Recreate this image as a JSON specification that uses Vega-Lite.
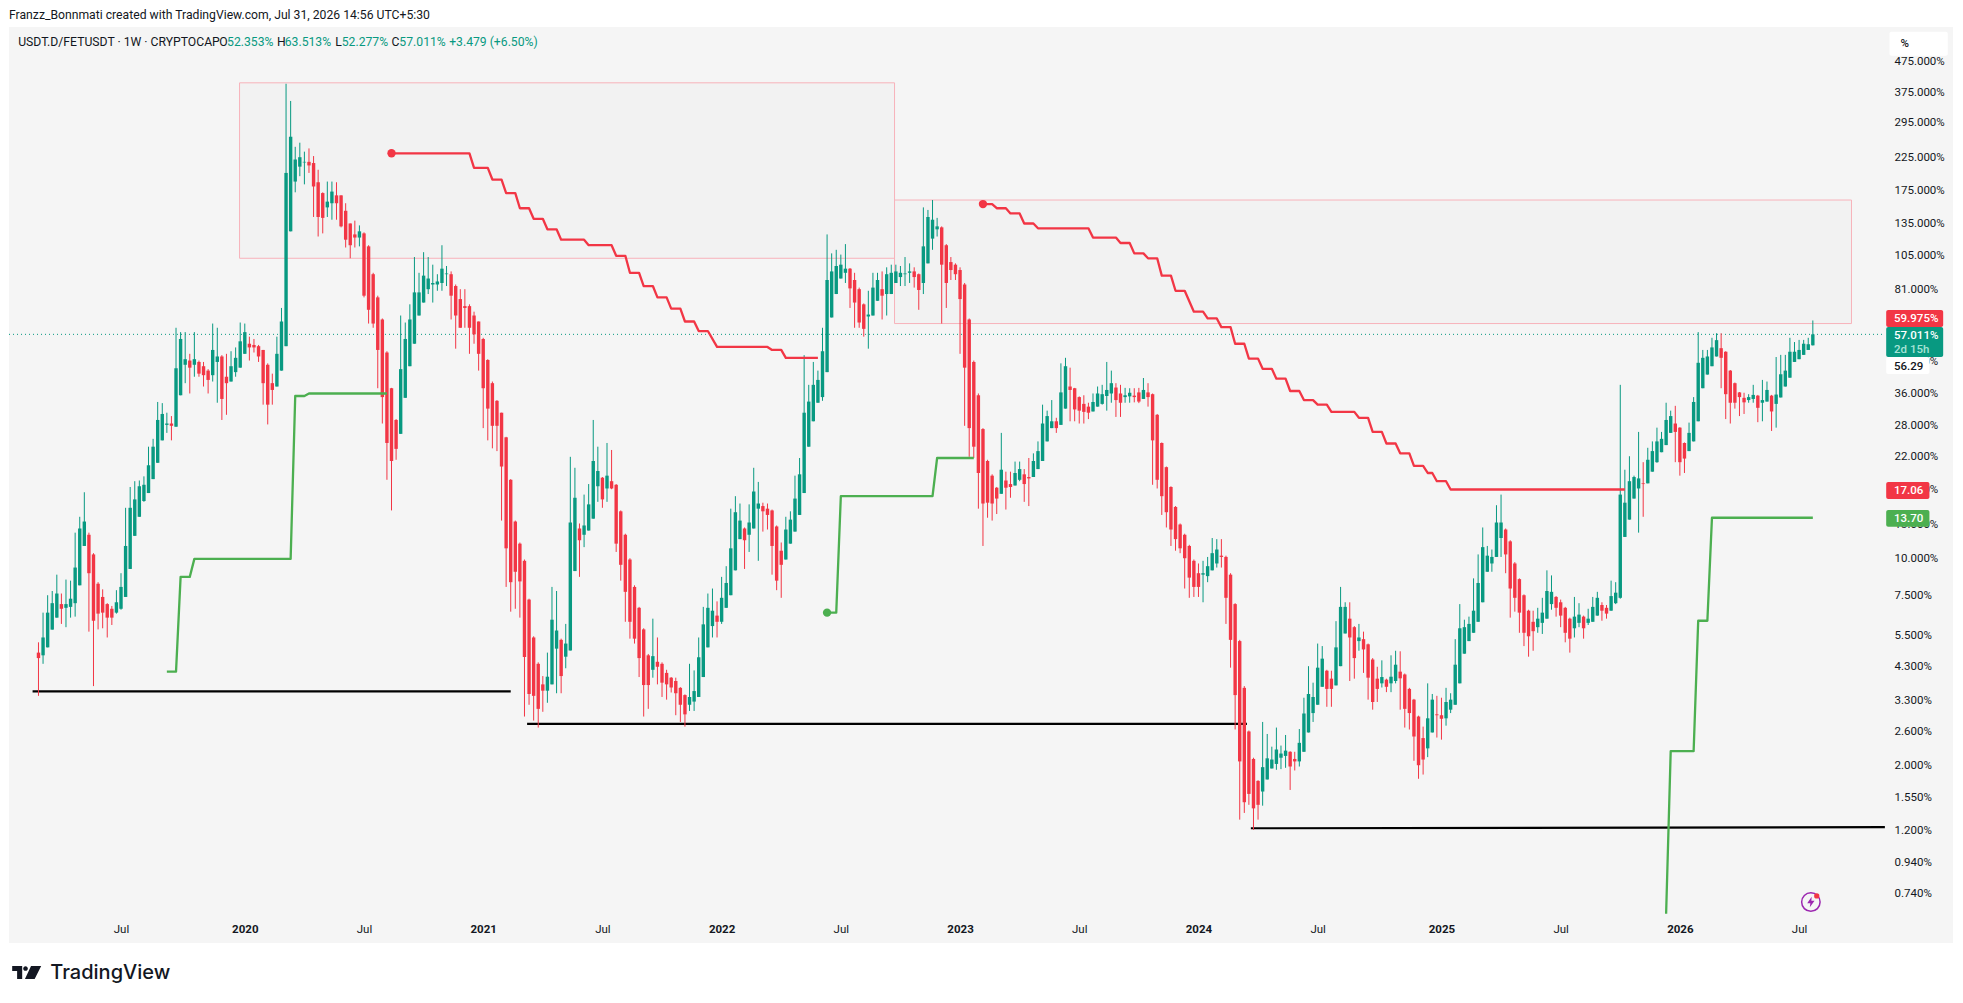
{
"$schema":"https://vega.github.io/schema/vega-lite/v6.json",
"width":1944,"height":916,
"autosize":{"type":"none"},
"padding":{"left":9,"top":27,"right":10,"bottom":60},
"background":"#ffffff",
"view":{"fill":"#f5f5f5","stroke":null},
"config":{"text":{"font":"Roboto"}},
"datasets":{
"candles":[
{"t":"2019-02-25","o":4.8,"h":5.2,"l":3.43,"c":4.6},
{"t":"2019-03-04","o":4.7,"h":6.55,"l":4.4,"c":5.4},
{"t":"2019-03-11","o":5.0,"h":7.5,"l":5.0,"c":6.55},
{"t":"2019-03-18","o":5.74,"h":7.75,"l":5.74,"c":7.05},
{"t":"2019-03-25","o":6.3,"h":8.8,"l":6.3,"c":7.6},
{"t":"2019-04-01","o":7,"h":7.6,"l":6.0,"c":6.75},
{"t":"2019-04-08","o":6.8,"h":8.47,"l":5.85,"c":7.0},
{"t":"2019-04-15","o":6.85,"h":8.4,"l":6.3,"c":7.3},
{"t":"2019-04-22","o":7.05,"h":12.2,"l":6.35,"c":9.3},
{"t":"2019-04-29","o":8.1,"h":13.8,"l":8.1,"c":12.6},
{"t":"2019-05-06","o":11,"h":16.7,"l":11,"c":13.3},
{"t":"2019-05-13","o":12,"h":12.2,"l":5.65,"c":8.9},
{"t":"2019-05-20","o":10.3,"h":10.4,"l":3.7,"c":6.15},
{"t":"2019-05-27","o":8.2,"h":8.3,"l":5.75,"c":6.5},
{"t":"2019-06-03","o":7.4,"h":7.85,"l":5.8,"c":6.55},
{"t":"2019-06-10","o":7,"h":7.05,"l":5.4,"c":6.3},
{"t":"2019-06-17","o":6.75,"h":6.9,"l":5.95,"c":6.3},
{"t":"2019-06-24","o":6.55,"h":7.8,"l":6.5,"c":7.1},
{"t":"2019-07-01","o":6.75,"h":8.9,"l":6.7,"c":8.0},
{"t":"2019-07-08","o":7.4,"h":14.8,"l":7.4,"c":11},
{"t":"2019-07-15","o":9.2,"h":17.4,"l":9.2,"c":14.8},
{"t":"2019-07-22","o":11.9,"h":18.2,"l":11.9,"c":15.8},
{"t":"2019-07-29","o":13.8,"h":18.3,"l":13.8,"c":17.5},
{"t":"2019-08-05","o":15.6,"h":18.9,"l":15.5,"c":17.7},
{"t":"2019-08-12","o":16.6,"h":23.8,"l":16.6,"c":20.6},
{"t":"2019-08-19","o":18.5,"h":25.3,"l":18.5,"c":23.8},
{"t":"2019-08-26","o":21,"h":33.7,"l":21,"c":29.3},
{"t":"2019-09-02","o":25,"h":33.4,"l":25,"c":30.7},
{"t":"2019-09-09","o":28.2,"h":31,"l":26.5,"c":28.5},
{"t":"2019-09-16","o":28.5,"h":30.2,"l":25,"c":28},
{"t":"2019-09-23","o":27.8,"h":60,"l":27.8,"c":43.8},
{"t":"2019-09-30","o":35.5,"h":58,"l":35.5,"c":55},
{"t":"2019-10-07","o":45,"h":58,"l":39,"c":47},
{"t":"2019-10-14","o":46.5,"h":49,"l":36,"c":44},
{"t":"2019-10-21","o":45,"h":58,"l":41,"c":47},
{"t":"2019-10-28","o":46,"h":46.5,"l":41,"c":42},
{"t":"2019-11-04","o":44.5,"h":46,"l":38,"c":41.5},
{"t":"2019-11-11","o":43,"h":43.5,"l":36,"c":40},
{"t":"2019-11-18","o":41.5,"h":62,"l":39.5,"c":50.5},
{"t":"2019-11-25","o":46,"h":60,"l":33.5,"c":48},
{"t":"2019-12-02","o":48,"h":48.5,"l":29.3,"c":34.5},
{"t":"2019-12-09","o":41,"h":49,"l":30.5,"c":39},
{"t":"2019-12-16","o":39.5,"h":50,"l":39.5,"c":44.5},
{"t":"2019-12-23","o":42.5,"h":51.5,"l":41,"c":47.5},
{"t":"2019-12-30","o":44,"h":62.5,"l":44,"c":54},
{"t":"2020-01-06","o":49,"h":62,"l":49,"c":58},
{"t":"2020-01-13","o":53,"h":56,"l":46.5,"c":51.5},
{"t":"2020-01-20","o":52.5,"h":55,"l":49.5,"c":51.5},
{"t":"2020-01-27","o":52,"h":52.5,"l":46,"c":48},
{"t":"2020-02-03","o":50.5,"h":50.5,"l":33,"c":39},
{"t":"2020-02-10","o":45,"h":45.5,"l":28.3,"c":33},
{"t":"2020-02-17","o":39,"h":42,"l":33,"c":37},
{"t":"2020-02-24","o":38,"h":56,"l":38,"c":49},
{"t":"2020-03-02","o":43,"h":70,"l":43,"c":63},
{"t":"2020-03-09","o":52,"h":400,"l":52,"c":200},
{"t":"2020-03-16","o":127,"h":350,"l":127,"c":265},
{"t":"2020-03-23","o":187,"h":245,"l":172,"c":222},
{"t":"2020-03-30","o":210,"h":253,"l":195,"c":226},
{"t":"2020-04-06","o":217,"h":236,"l":183,"c":218},
{"t":"2020-04-13","o":218,"h":242,"l":200,"c":212},
{"t":"2020-04-20","o":216,"h":228,"l":142,"c":180},
{"t":"2020-04-27","o":186,"h":205,"l":122,"c":142},
{"t":"2020-05-04","o":171,"h":172,"l":125,"c":141},
{"t":"2020-05-11","o":153,"h":187,"l":142,"c":160},
{"t":"2020-05-18","o":158,"h":187,"l":139,"c":173},
{"t":"2020-05-25","o":168,"h":186,"l":139,"c":158},
{"t":"2020-06-01","o":168,"h":168,"l":131,"c":132},
{"t":"2020-06-08","o":149,"h":158,"l":112,"c":119},
{"t":"2020-06-15","o":135,"h":135,"l":103,"c":114},
{"t":"2020-06-22","o":124,"h":138,"l":112,"c":121},
{"t":"2020-06-29","o":121,"h":133,"l":113,"c":127},
{"t":"2020-07-06","o":125,"h":126,"l":76,"c":77},
{"t":"2020-07-13","o":113,"h":114,"l":62,"c":69},
{"t":"2020-07-20","o":91,"h":92,"l":60,"c":62},
{"t":"2020-07-27","o":76,"h":77,"l":37.5,"c":50.5},
{"t":"2020-08-03","o":64,"h":64.5,"l":28.5,"c":35},
{"t":"2020-08-10","o":49.5,"h":50,"l":18.4,"c":24.5},
{"t":"2020-08-17","o":37.5,"h":37.6,"l":14.5,"c":21.3},
{"t":"2020-08-24","o":29.3,"h":29.5,"l":21.5,"c":23.4},
{"t":"2020-08-31","o":26.3,"h":66,"l":26.3,"c":43.5},
{"t":"2020-09-07","o":34.8,"h":62.5,"l":34.8,"c":55},
{"t":"2020-09-14","o":44.5,"h":72,"l":44.5,"c":64},
{"t":"2020-09-21","o":53,"h":104,"l":53,"c":79},
{"t":"2020-09-28","o":66,"h":92,"l":66,"c":79},
{"t":"2020-10-05","o":73,"h":108,"l":73,"c":90},
{"t":"2020-10-12","o":81,"h":104,"l":78,"c":88},
{"t":"2020-10-19","o":84,"h":98,"l":73,"c":85},
{"t":"2020-10-26","o":84,"h":91,"l":80,"c":86},
{"t":"2020-11-02","o":85,"h":114,"l":80,"c":95},
{"t":"2020-11-09","o":91,"h":97,"l":83,"c":91.5},
{"t":"2020-11-16","o":91,"h":93,"l":64,"c":77},
{"t":"2020-11-23","o":83,"h":84,"l":51,"c":66},
{"t":"2020-11-30","o":75,"h":81,"l":60,"c":60},
{"t":"2020-12-07","o":71,"h":81,"l":60,"c":70},
{"t":"2020-12-14","o":71,"h":72,"l":49,"c":60},
{"t":"2020-12-21","o":66,"h":68,"l":53,"c":57},
{"t":"2020-12-28","o":63,"h":63,"l":43,"c":49},
{"t":"2021-01-04","o":55,"h":55.5,"l":27.5,"c":37.5},
{"t":"2021-01-11","o":46.7,"h":47,"l":25,"c":32},
{"t":"2021-01-18","o":39,"h":39.5,"l":23.5,"c":28},
{"t":"2021-01-25","o":34,"h":34.2,"l":23,"c":28},
{"t":"2021-02-01","o":31,"h":31,"l":13.4,"c":20.4},
{"t":"2021-02-08","o":25.6,"h":25.7,"l":8,"c":10.8},
{"t":"2021-02-15","o":18.4,"h":18.5,"l":6.6,"c":8.3},
{"t":"2021-02-22","o":13.3,"h":13.4,"l":6.75,"c":9},
{"t":"2021-03-01","o":11.2,"h":11.3,"l":6.3,"c":8.35},
{"t":"2021-03-08","o":9.8,"h":9.9,"l":2.92,"c":4.64},
{"t":"2021-03-15","o":7.25,"h":7.3,"l":3.2,"c":3.48},
{"t":"2021-03-22","o":5.4,"h":5.45,"l":2.83,"c":3.43},
{"t":"2021-03-29","o":4.4,"h":4.45,"l":2.68,"c":3.1},
{"t":"2021-04-05","o":3.75,"h":4,"l":3.03,"c":3.57},
{"t":"2021-04-12","o":3.57,"h":4.8,"l":3.25,"c":3.98},
{"t":"2021-04-19","o":3.75,"h":8,"l":3.75,"c":6.2},
{"t":"2021-04-26","o":4.95,"h":7.75,"l":3.5,"c":5.7},
{"t":"2021-05-03","o":5.3,"h":5.35,"l":3.5,"c":4},
{"t":"2021-05-10","o":4.65,"h":6,"l":4.25,"c":5.15},
{"t":"2021-05-17","o":4.88,"h":22,"l":4.88,"c":13.2},
{"t":"2021-05-24","o":9.05,"h":20.2,"l":9.05,"c":16},
{"t":"2021-05-31","o":12.6,"h":13.1,"l":8.65,"c":11.5},
{"t":"2021-06-07","o":12,"h":16.4,"l":10.9,"c":12.9},
{"t":"2021-06-14","o":12.4,"h":17.8,"l":12.4,"c":15.2},
{"t":"2021-06-21","o":13.6,"h":29.3,"l":13.6,"c":21.3},
{"t":"2021-06-28","o":17.5,"h":23.8,"l":15.5,"c":19.7},
{"t":"2021-07-05","o":18.7,"h":18.8,"l":14.8,"c":15.8},
{"t":"2021-07-12","o":17.2,"h":24.5,"l":15.5,"c":19},
{"t":"2021-07-19","o":18.2,"h":23.2,"l":17.1,"c":17.2},
{"t":"2021-07-26","o":17.7,"h":17.8,"l":10.5,"c":11.2},
{"t":"2021-08-02","o":14.4,"h":14.5,"l":8.4,"c":9.5},
{"t":"2021-08-09","o":12,"h":12.1,"l":6.1,"c":7.7},
{"t":"2021-08-16","o":9.9,"h":10,"l":5.35,"c":6.1},
{"t":"2021-08-23","o":8,"h":8.1,"l":5.15,"c":5.35},
{"t":"2021-08-30","o":6.8,"h":6.85,"l":3.97,"c":4.6},
{"t":"2021-09-06","o":5.75,"h":5.8,"l":2.92,"c":3.73},
{"t":"2021-09-13","o":4.7,"h":4.75,"l":3.1,"c":3.73},
{"t":"2021-09-20","o":4.2,"h":6.25,"l":3.95,"c":4.67},
{"t":"2021-09-27","o":4.47,"h":5.4,"l":3.75,"c":4.3},
{"t":"2021-10-04","o":4.4,"h":4.45,"l":3.4,"c":3.8},
{"t":"2021-10-11","o":4.1,"h":4.2,"l":3.33,"c":3.75},
{"t":"2021-10-18","o":3.95,"h":3.97,"l":3.52,"c":3.66},
{"t":"2021-10-25","o":3.85,"h":3.95,"l":2.95,"c":3.5},
{"t":"2021-11-01","o":3.65,"h":3.67,"l":2.8,"c":3.2},
{"t":"2021-11-08","o":3.45,"h":3.47,"l":2.7,"c":2.97},
{"t":"2021-11-15","o":3.2,"h":4.4,"l":3.05,"c":3.4},
{"t":"2021-11-22","o":3.28,"h":4.18,"l":3.05,"c":3.56},
{"t":"2021-11-29","o":3.4,"h":5.4,"l":3.4,"c":4.63},
{"t":"2021-12-06","o":3.97,"h":6.85,"l":3.97,"c":5.98},
{"t":"2021-12-13","o":5,"h":7.6,"l":5,"c":6.8},
{"t":"2021-12-20","o":5.9,"h":7.9,"l":5.4,"c":6.65},
{"t":"2021-12-27","o":6.4,"h":7.15,"l":5.4,"c":6.1},
{"t":"2022-01-03","o":6.1,"h":8.65,"l":6,"c":7.35},
{"t":"2022-01-10","o":6.8,"h":9.4,"l":6.8,"c":8.25},
{"t":"2022-01-17","o":7.5,"h":14.7,"l":7.5,"c":10.8},
{"t":"2022-01-24","o":9.1,"h":16.2,"l":9.1,"c":14.3},
{"t":"2022-01-31","o":11.6,"h":15.3,"l":11.6,"c":13.4},
{"t":"2022-02-07","o":12.6,"h":12.7,"l":9.2,"c":11.5},
{"t":"2022-02-14","o":12,"h":15.2,"l":10.5,"c":13.2},
{"t":"2022-02-21","o":12.6,"h":20.2,"l":12.6,"c":16.8},
{"t":"2022-02-28","o":14.7,"h":18.1,"l":9.8,"c":15.3},
{"t":"2022-03-07","o":15,"h":15.4,"l":12.3,"c":14.4},
{"t":"2022-03-14","o":14.7,"h":15.3,"l":12.5,"c":14},
{"t":"2022-03-21","o":14.5,"h":14.6,"l":8.8,"c":11},
{"t":"2022-03-28","o":12.8,"h":12.9,"l":7.8,"c":8.4},
{"t":"2022-04-04","o":10.6,"h":11.3,"l":7.35,"c":9.5},
{"t":"2022-04-11","o":9.9,"h":13.8,"l":9.9,"c":12.5},
{"t":"2022-04-18","o":11.2,"h":14.4,"l":11.2,"c":13.5},
{"t":"2022-04-25","o":12.3,"h":19,"l":12.3,"c":15.9},
{"t":"2022-05-02","o":14,"h":21.8,"l":14,"c":19.2},
{"t":"2022-05-09","o":16.6,"h":48.5,"l":16.6,"c":31},
{"t":"2022-05-16","o":23.8,"h":38.5,"l":23.8,"c":33.8},
{"t":"2022-05-23","o":29,"h":46,"l":29,"c":38.5},
{"t":"2022-05-30","o":33.5,"h":43,"l":33.5,"c":40},
{"t":"2022-06-06","o":35,"h":60,"l":34,"c":50},
{"t":"2022-06-13","o":42.5,"h":124,"l":42.5,"c":87},
{"t":"2022-06-20","o":65,"h":107,"l":65,"c":93},
{"t":"2022-06-27","o":78,"h":110,"l":78,"c":97},
{"t":"2022-07-04","o":88,"h":106,"l":88,"c":98},
{"t":"2022-07-11","o":92,"h":115,"l":85,"c":95},
{"t":"2022-07-18","o":95,"h":95.5,"l":70,"c":81.5},
{"t":"2022-07-25","o":87,"h":92,"l":60,"c":73},
{"t":"2022-08-01","o":81,"h":82,"l":60,"c":62.5},
{"t":"2022-08-08","o":72,"h":72.5,"l":56,"c":59.5},
{"t":"2022-08-15","o":65.5,"h":80,"l":51,"c":66.5},
{"t":"2022-08-22","o":66,"h":92,"l":66,"c":82},
{"t":"2022-08-29","o":74,"h":92,"l":74,"c":87},
{"t":"2022-09-05","o":81,"h":93,"l":64,"c":77},
{"t":"2022-09-12","o":78,"h":96,"l":66,"c":91},
{"t":"2022-09-19","o":78,"h":98,"l":78,"c":92},
{"t":"2022-09-26","o":85,"h":98,"l":85,"c":93},
{"t":"2022-10-03","o":89,"h":97,"l":83,"c":92},
{"t":"2022-10-10","o":91,"h":104,"l":83,"c":91.5},
{"t":"2022-10-17","o":92,"h":99,"l":85,"c":93},
{"t":"2022-10-24","o":93,"h":96,"l":82,"c":89},
{"t":"2022-10-31","o":91,"h":91.5,"l":69,"c":80.5},
{"t":"2022-11-07","o":85,"h":153,"l":78,"c":113},
{"t":"2022-11-14","o":99,"h":150,"l":99,"c":142},
{"t":"2022-11-21","o":120,"h":162,"l":110,"c":139},
{"t":"2022-11-28","o":129,"h":141,"l":122,"c":132},
{"t":"2022-12-05","o":131,"h":132,"l":62,"c":98},
{"t":"2022-12-12","o":114,"h":115,"l":70,"c":85},
{"t":"2022-12-19","o":100,"h":104,"l":87,"c":94},
{"t":"2022-12-26","o":98,"h":99,"l":87,"c":91},
{"t":"2023-01-02","o":94,"h":96,"l":49,"c":75},
{"t":"2023-01-09","o":84,"h":85,"l":28,"c":44},
{"t":"2023-01-16","o":64,"h":64.5,"l":22,"c":27.5},
{"t":"2023-01-23","o":46,"h":46.5,"l":21.8,"c":23.8},
{"t":"2023-01-30","o":35.5,"h":36,"l":14.7,"c":19.4},
{"t":"2023-02-06","o":27.3,"h":27.5,"l":11,"c":15.3},
{"t":"2023-02-13","o":21.3,"h":21.5,"l":13.7,"c":15.4},
{"t":"2023-02-20","o":19,"h":19.2,"l":13.4,"c":15.3},
{"t":"2023-02-27","o":17.3,"h":17.4,"l":14.1,"c":15.9},
{"t":"2023-03-06","o":16.5,"h":26.5,"l":16.5,"c":19.9},
{"t":"2023-03-13","o":18.3,"h":19.6,"l":14.6,"c":17.3},
{"t":"2023-03-20","o":17.8,"h":19.6,"l":16,"c":17.4},
{"t":"2023-03-27","o":17.6,"h":21.2,"l":17.6,"c":19.4},
{"t":"2023-04-03","o":18.4,"h":21.2,"l":18.2,"c":20},
{"t":"2023-04-10","o":19.2,"h":20,"l":15.5,"c":17.8},
{"t":"2023-04-17","o":18.8,"h":21.8,"l":15,"c":18.6},
{"t":"2023-04-24","o":18.8,"h":22.6,"l":18.8,"c":21.3},
{"t":"2023-05-01","o":20,"h":24.8,"l":20,"c":23},
{"t":"2023-05-08","o":21.3,"h":33,"l":21.3,"c":28.5},
{"t":"2023-05-15","o":24.8,"h":31.5,"l":24.8,"c":30.2},
{"t":"2023-05-22","o":27.5,"h":34.2,"l":27.5,"c":29},
{"t":"2023-05-29","o":29,"h":29.8,"l":26.5,"c":27.5},
{"t":"2023-06-05","o":28.2,"h":45.5,"l":28.2,"c":36.3},
{"t":"2023-06-12","o":32,"h":47.5,"l":32,"c":44.5},
{"t":"2023-06-19","o":38,"h":44,"l":29,"c":37},
{"t":"2023-06-26","o":37.5,"h":37.6,"l":29,"c":31.8},
{"t":"2023-07-03","o":35,"h":35.2,"l":28.5,"c":31.5},
{"t":"2023-07-10","o":33.2,"h":35.5,"l":28.5,"c":31.2},
{"t":"2023-07-17","o":32.5,"h":33.5,"l":29.5,"c":31},
{"t":"2023-07-24","o":31.3,"h":36,"l":31.3,"c":33.7},
{"t":"2023-07-31","o":32.5,"h":38,"l":32.5,"c":36},
{"t":"2023-08-07","o":33.2,"h":38.5,"l":33,"c":35.8},
{"t":"2023-08-14","o":35.3,"h":46,"l":31.5,"c":37},
{"t":"2023-08-21","o":36,"h":43,"l":33.5,"c":39},
{"t":"2023-08-28","o":37.7,"h":39,"l":30,"c":34.2},
{"t":"2023-09-04","o":36,"h":38.5,"l":30,"c":33.5},
{"t":"2023-09-11","o":35,"h":37.6,"l":33.5,"c":35.5},
{"t":"2023-09-18","o":35.2,"h":37.5,"l":33.5,"c":36.2},
{"t":"2023-09-25","o":35.4,"h":37.5,"l":33.6,"c":35},
{"t":"2023-10-02","o":36.3,"h":37.6,"l":33.4,"c":33.8},
{"t":"2023-10-09","o":34.5,"h":40.6,"l":34.5,"c":37},
{"t":"2023-10-16","o":36.3,"h":39,"l":32.5,"c":35},
{"t":"2023-10-23","o":35.8,"h":36,"l":17.7,"c":25},
{"t":"2023-10-30","o":30.5,"h":30.7,"l":17.2,"c":18.4},
{"t":"2023-11-06","o":24.5,"h":24.6,"l":14,"c":16.2},
{"t":"2023-11-13","o":20.3,"h":20.4,"l":12.7,"c":14.3},
{"t":"2023-11-20","o":17.4,"h":17.5,"l":11,"c":12.5},
{"t":"2023-11-27","o":14.9,"h":15,"l":10.6,"c":11.6},
{"t":"2023-12-04","o":13,"h":13.1,"l":10.4,"c":10.8},
{"t":"2023-12-11","o":12,"h":12.1,"l":7.9,"c":10},
{"t":"2023-12-18","o":11,"h":11.1,"l":7.35,"c":8.6},
{"t":"2023-12-25","o":9.8,"h":9.9,"l":7.4,"c":8},
{"t":"2024-01-01","o":8.9,"h":9.6,"l":7.4,"c":8},
{"t":"2024-01-08","o":8.8,"h":9.8,"l":7.1,"c":8.9},
{"t":"2024-01-15","o":8.7,"h":10.1,"l":8.3,"c":9.4},
{"t":"2024-01-22","o":9.1,"h":11.7,"l":9.1,"c":10.4},
{"t":"2024-01-29","o":9.6,"h":11.6,"l":9.3,"c":10.7},
{"t":"2024-02-05","o":10.2,"h":11.6,"l":9.3,"c":10.1},
{"t":"2024-02-12","o":10.1,"h":10.2,"l":6,"c":7.35},
{"t":"2024-02-19","o":8.8,"h":8.9,"l":4.27,"c":5.3},
{"t":"2024-02-26","o":7,"h":7.05,"l":2.64,"c":3.45},
{"t":"2024-03-04","o":5.25,"h":5.3,"l":1.31,"c":2.06},
{"t":"2024-03-11","o":3.65,"h":3.7,"l":1.38,"c":1.5},
{"t":"2024-03-18","o":2.6,"h":2.62,"l":1.47,"c":1.6},
{"t":"2024-03-25","o":2.1,"h":2.12,"l":1.21,"c":1.43},
{"t":"2024-04-01","o":1.77,"h":1.78,"l":1.31,"c":1.47},
{"t":"2024-04-08","o":1.63,"h":2.8,"l":1.46,"c":1.97},
{"t":"2024-04-15","o":1.79,"h":2.55,"l":1.79,"c":2.11},
{"t":"2024-04-22","o":1.95,"h":2.31,"l":1.95,"c":2.09},
{"t":"2024-04-29","o":2.02,"h":2.68,"l":1.93,"c":2.26},
{"t":"2024-05-06","o":2.12,"h":2.33,"l":1.94,"c":2.19},
{"t":"2024-05-13","o":2.15,"h":2.53,"l":1.96,"c":2.24},
{"t":"2024-05-20","o":2.22,"h":2.23,"l":1.65,"c":1.98},
{"t":"2024-05-27","o":2.1,"h":2.22,"l":1.92,"c":2.06},
{"t":"2024-06-03","o":2.06,"h":2.65,"l":1.98,"c":2.38},
{"t":"2024-06-10","o":2.22,"h":3.38,"l":2.22,"c":2.99},
{"t":"2024-06-17","o":2.58,"h":4.32,"l":2.58,"c":3.48},
{"t":"2024-06-24","o":3,"h":3.8,"l":2.8,"c":3.4},
{"t":"2024-07-01","o":3.2,"h":5.15,"l":3.2,"c":4.27},
{"t":"2024-07-08","o":3.68,"h":5.05,"l":3.68,"c":4.58},
{"t":"2024-07-15","o":4.17,"h":4.2,"l":3.15,"c":3.62},
{"t":"2024-07-22","o":3.92,"h":4.17,"l":3.15,"c":3.62},
{"t":"2024-07-29","o":3.72,"h":6.13,"l":3.72,"c":5},
{"t":"2024-08-05","o":4.32,"h":8,"l":4.32,"c":6.85},
{"t":"2024-08-12","o":5.57,"h":7.1,"l":5.57,"c":6.85},
{"t":"2024-08-19","o":6.25,"h":7.1,"l":3.85,"c":5.4},
{"t":"2024-08-26","o":5.85,"h":5.9,"l":3.92,"c":4.6},
{"t":"2024-09-02","o":5.25,"h":6,"l":4.87,"c":5.4},
{"t":"2024-09-09","o":5.33,"h":5.65,"l":4.1,"c":4.92},
{"t":"2024-09-16","o":5.12,"h":5.15,"l":3.33,"c":3.95},
{"t":"2024-09-23","o":4.55,"h":4.6,"l":3.08,"c":3.27},
{"t":"2024-09-30","o":3.92,"h":4.3,"l":3.27,"c":3.62},
{"t":"2024-10-07","o":3.78,"h":4.52,"l":3.66,"c":3.97},
{"t":"2024-10-14","o":3.89,"h":3.92,"l":3.53,"c":3.68},
{"t":"2024-10-21","o":3.78,"h":4.7,"l":3.53,"c":3.98},
{"t":"2024-10-28","o":3.85,"h":4.87,"l":3.78,"c":4.37},
{"t":"2024-11-04","o":4.14,"h":4.85,"l":3.08,"c":3.93},
{"t":"2024-11-11","o":4.05,"h":4.08,"l":2.68,"c":3.1},
{"t":"2024-11-18","o":3.62,"h":3.65,"l":2.64,"c":3},
{"t":"2024-11-25","o":3.33,"h":3.35,"l":2.07,"c":2.5},
{"t":"2024-12-02","o":2.92,"h":2.94,"l":1.8,"c":2},
{"t":"2024-12-09","o":2.47,"h":2.7,"l":1.86,"c":2.09},
{"t":"2024-12-16","o":2.28,"h":3.78,"l":2.13,"c":2.88},
{"t":"2024-12-23","o":2.58,"h":3.48,"l":2.58,"c":3.33},
{"t":"2024-12-30","o":2.97,"h":3.43,"l":2.48,"c":2.95},
{"t":"2025-01-06","o":2.95,"h":3.38,"l":2.44,"c":2.87},
{"t":"2025-01-13","o":2.88,"h":3.65,"l":2.72,"c":3.27},
{"t":"2025-01-20","o":3.08,"h":3.5,"l":3,"c":3.33},
{"t":"2025-01-27","o":3.2,"h":5.33,"l":3.2,"c":4.37},
{"t":"2025-02-03","o":3.78,"h":7,"l":3.78,"c":5.8},
{"t":"2025-02-10","o":4.76,"h":6.2,"l":4.76,"c":5.85},
{"t":"2025-02-17","o":5.25,"h":6.35,"l":5.25,"c":6},
{"t":"2025-02-24","o":5.6,"h":8.55,"l":5.6,"c":6.65},
{"t":"2025-03-03","o":6.1,"h":10.3,"l":6.1,"c":8.25},
{"t":"2025-03-10","o":7.1,"h":12.7,"l":7.1,"c":10.9},
{"t":"2025-03-17","o":9,"h":11,"l":9,"c":10.2},
{"t":"2025-03-24","o":9.6,"h":10.7,"l":9,"c":10.1},
{"t":"2025-03-31","o":10.1,"h":15.1,"l":10.1,"c":13.2},
{"t":"2025-04-07","o":11.7,"h":16.4,"l":10.1,"c":13.2},
{"t":"2025-04-14","o":12.5,"h":12.6,"l":8.9,"c":10.3},
{"t":"2025-04-21","o":11.4,"h":11.5,"l":6.3,"c":7.9},
{"t":"2025-04-28","o":9.6,"h":9.7,"l":6.6,"c":7.35},
{"t":"2025-05-05","o":8.5,"h":8.55,"l":5.6,"c":6.55},
{"t":"2025-05-12","o":7.5,"h":7.55,"l":5.05,"c":5.6},
{"t":"2025-05-19","o":6.65,"h":6.7,"l":4.65,"c":5.45},
{"t":"2025-05-26","o":6.1,"h":6.65,"l":4.87,"c":5.67},
{"t":"2025-06-02","o":5.85,"h":6.8,"l":5.6,"c":6.25},
{"t":"2025-06-09","o":6.05,"h":7.35,"l":5.55,"c":6.55},
{"t":"2025-06-16","o":6.25,"h":9.1,"l":6.25,"c":7.75},
{"t":"2025-06-23","o":7,"h":8.75,"l":6.7,"c":7.7},
{"t":"2025-06-30","o":7.4,"h":7.45,"l":6.35,"c":6.8},
{"t":"2025-07-07","o":7.1,"h":7.25,"l":5.85,"c":6.4},
{"t":"2025-07-14","o":6.8,"h":6.85,"l":5.2,"c":5.6},
{"t":"2025-07-21","o":6.25,"h":6.3,"l":4.8,"c":5.35},
{"t":"2025-07-28","o":5.8,"h":7.4,"l":5.4,"c":6.35},
{"t":"2025-08-04","o":6.05,"h":7.05,"l":5.85,"c":6.45},
{"t":"2025-08-11","o":6.35,"h":6.4,"l":5.35,"c":5.8},
{"t":"2025-08-18","o":6.05,"h":6.75,"l":5.95,"c":6.25},
{"t":"2025-08-25","o":6.1,"h":7.4,"l":6.1,"c":6.85},
{"t":"2025-09-01","o":6.4,"h":7.7,"l":6.4,"c":7.35},
{"t":"2025-09-08","o":6.95,"h":7.1,"l":6.15,"c":6.65},
{"t":"2025-09-15","o":6.8,"h":6.95,"l":6.25,"c":6.5},
{"t":"2025-09-22","o":6.65,"h":8.4,"l":6.65,"c":7.45},
{"t":"2025-09-29","o":7.05,"h":8.3,"l":7,"c":7.65},
{"t":"2025-10-06","o":7.35,"h":38.5,"l":7.3,"c":16.4},
{"t":"2025-10-13","o":11.8,"h":19.9,"l":11.8,"c":15.4},
{"t":"2025-10-20","o":13.5,"h":22.1,"l":13.5,"c":18.2},
{"t":"2025-10-27","o":15.9,"h":19,"l":15.9,"c":18.8},
{"t":"2025-11-03","o":17.2,"h":26.7,"l":12.2,"c":18.6},
{"t":"2025-11-10","o":17.9,"h":21.1,"l":13.8,"c":17.8},
{"t":"2025-11-17","o":17.9,"h":23.6,"l":17.9,"c":21.5},
{"t":"2025-11-24","o":19.6,"h":24.8,"l":19.6,"c":23},
{"t":"2025-12-01","o":21.1,"h":27.6,"l":21,"c":24.8},
{"t":"2025-12-08","o":22.8,"h":26.7,"l":22.8,"c":25.3},
{"t":"2025-12-15","o":24.1,"h":33.5,"l":24.1,"c":29.3},
{"t":"2025-12-22","o":26.5,"h":31.5,"l":26.5,"c":30.2},
{"t":"2025-12-29","o":28.5,"h":32.7,"l":21.1,"c":26.7},
{"t":"2026-01-05","o":27.6,"h":27.7,"l":19,"c":21.1},
{"t":"2026-01-12","o":24.5,"h":24.6,"l":19.4,"c":21.7},
{"t":"2026-01-19","o":23,"h":28.7,"l":23,"c":26.5},
{"t":"2026-01-26","o":24.8,"h":35,"l":24.8,"c":33.7},
{"t":"2026-02-02","o":29,"h":58,"l":29,"c":45.7},
{"t":"2026-02-09","o":37.5,"h":50.5,"l":37.5,"c":47.5},
{"t":"2026-02-16","o":41.7,"h":50.5,"l":41.7,"c":48},
{"t":"2026-02-23","o":44.5,"h":55.5,"l":44.5,"c":51.5},
{"t":"2026-03-02","o":48,"h":57.5,"l":48,"c":54.5},
{"t":"2026-03-09","o":51.2,"h":57.5,"l":37.5,"c":47.5},
{"t":"2026-03-16","o":49.8,"h":50,"l":29.5,"c":35.8},
{"t":"2026-03-23","o":43,"h":43.2,"l":28.5,"c":33.5},
{"t":"2026-03-30","o":39,"h":39.2,"l":32,"c":33.5},
{"t":"2026-04-06","o":36.3,"h":36.4,"l":30.2,"c":35},
{"t":"2026-04-13","o":34.8,"h":36.2,"l":30.7,"c":33.6},
{"t":"2026-04-20","o":34.2,"h":35.8,"l":33.5,"c":35},
{"t":"2026-04-27","o":34.5,"h":38.5,"l":33.5,"c":35.6},
{"t":"2026-05-04","o":35.4,"h":35.6,"l":28.8,"c":32.2},
{"t":"2026-05-11","o":33.5,"h":40,"l":29,"c":34.2},
{"t":"2026-05-18","o":33.8,"h":39.5,"l":33.8,"c":37},
{"t":"2026-05-25","o":35.4,"h":35.6,"l":26.9,"c":31.3},
{"t":"2026-06-01","o":33.2,"h":47.8,"l":27.6,"c":35.7},
{"t":"2026-06-08","o":34.9,"h":48.6,"l":34.9,"c":41.8},
{"t":"2026-06-15","o":38,"h":48.6,"l":38,"c":43},
{"t":"2026-06-22","o":40.7,"h":55.5,"l":40.7,"c":49.8},
{"t":"2026-06-29","o":46,"h":53.7,"l":46,"c":49.8},
{"t":"2026-07-06","o":47,"h":54.6,"l":47,"c":50.5},
{"t":"2026-07-13","o":48.6,"h":54.6,"l":48.6,"c":53},
{"t":"2026-07-20","o":50.5,"h":55.5,"l":50.5,"c":52.8},
{"t":"2026-07-27","o":52.353,"h":63.513,"l":52.277,"c":57.011}
],
"trend":[
{"id":"r1","role":"bear","t":"2020-08-17","v":233},{"id":"r1","role":"bear","t":"2020-12-14","v":233},{"id":"r1","role":"bear","t":"2020-12-21","v":208},{"id":"r1","role":"bear","t":"2021-01-11","v":208},{"id":"r1","role":"bear","t":"2021-01-18","v":190},{"id":"r1","role":"bear","t":"2021-02-01","v":190},{"id":"r1","role":"bear","t":"2021-02-08","v":171},{"id":"r1","role":"bear","t":"2021-02-22","v":171},{"id":"r1","role":"bear","t":"2021-03-01","v":152},{"id":"r1","role":"bear","t":"2021-03-15","v":152},{"id":"r1","role":"bear","t":"2021-03-22","v":140},{"id":"r1","role":"bear","t":"2021-04-05","v":140},{"id":"r1","role":"bear","t":"2021-04-12","v":129},{"id":"r1","role":"bear","t":"2021-04-26","v":129},{"id":"r1","role":"bear","t":"2021-05-03","v":119},{"id":"r1","role":"bear","t":"2021-06-07","v":119},{"id":"r1","role":"bear","t":"2021-06-14","v":114},{"id":"r1","role":"bear","t":"2021-07-19","v":114},{"id":"r1","role":"bear","t":"2021-07-26","v":105},{"id":"r1","role":"bear","t":"2021-08-09","v":105},{"id":"r1","role":"bear","t":"2021-08-16","v":92},{"id":"r1","role":"bear","t":"2021-08-30","v":92},{"id":"r1","role":"bear","t":"2021-09-06","v":83},{"id":"r1","role":"bear","t":"2021-09-20","v":83},{"id":"r1","role":"bear","t":"2021-09-27","v":76},{"id":"r1","role":"bear","t":"2021-10-11","v":76},{"id":"r1","role":"bear","t":"2021-10-18","v":69.6},{"id":"r1","role":"bear","t":"2021-11-01","v":69.6},{"id":"r1","role":"bear","t":"2021-11-08","v":63},{"id":"r1","role":"bear","t":"2021-11-22","v":63},{"id":"r1","role":"bear","t":"2021-11-29","v":58.5},{"id":"r1","role":"bear","t":"2021-12-13","v":58.5},{"id":"r1","role":"bear","t":"2021-12-27","v":51.7},{"id":"r1","role":"bear","t":"2022-03-14","v":51.7},{"id":"r1","role":"bear","t":"2022-03-21","v":50.5},{"id":"r1","role":"bear","t":"2022-04-04","v":50.5},{"id":"r1","role":"bear","t":"2022-04-11","v":47.5},{"id":"r1","role":"bear","t":"2022-05-30","v":47.5},
{"id":"r2","role":"bear","t":"2023-02-06","v":157},{"id":"r2","role":"bear","t":"2023-02-20","v":157},{"id":"r2","role":"bear","t":"2023-02-27","v":152},{"id":"r2","role":"bear","t":"2023-03-13","v":152},{"id":"r2","role":"bear","t":"2023-03-20","v":146},{"id":"r2","role":"bear","t":"2023-04-03","v":146},{"id":"r2","role":"bear","t":"2023-04-10","v":135},{"id":"r2","role":"bear","t":"2023-04-24","v":135},{"id":"r2","role":"bear","t":"2023-05-01","v":130},{"id":"r2","role":"bear","t":"2023-07-17","v":130},{"id":"r2","role":"bear","t":"2023-07-24","v":121},{"id":"r2","role":"bear","t":"2023-08-28","v":121},{"id":"r2","role":"bear","t":"2023-09-04","v":116},{"id":"r2","role":"bear","t":"2023-09-18","v":116},{"id":"r2","role":"bear","t":"2023-09-25","v":107},{"id":"r2","role":"bear","t":"2023-10-09","v":107},{"id":"r2","role":"bear","t":"2023-10-16","v":103},{"id":"r2","role":"bear","t":"2023-10-30","v":103},{"id":"r2","role":"bear","t":"2023-11-06","v":90},{"id":"r2","role":"bear","t":"2023-11-20","v":90},{"id":"r2","role":"bear","t":"2023-11-27","v":80},{"id":"r2","role":"bear","t":"2023-12-11","v":80},{"id":"r2","role":"bear","t":"2023-12-25","v":68},{"id":"r2","role":"bear","t":"2024-01-08","v":68},{"id":"r2","role":"bear","t":"2024-01-15","v":64.5},{"id":"r2","role":"bear","t":"2024-01-29","v":64.5},{"id":"r2","role":"bear","t":"2024-02-05","v":60.3},{"id":"r2","role":"bear","t":"2024-02-19","v":60.3},{"id":"r2","role":"bear","t":"2024-02-26","v":53},{"id":"r2","role":"bear","t":"2024-03-11","v":53},{"id":"r2","role":"bear","t":"2024-03-18","v":47.2},{"id":"r2","role":"bear","t":"2024-04-01","v":47.2},{"id":"r2","role":"bear","t":"2024-04-08","v":43.6},{"id":"r2","role":"bear","t":"2024-04-22","v":43.6},{"id":"r2","role":"bear","t":"2024-04-29","v":40.4},{"id":"r2","role":"bear","t":"2024-05-13","v":40.4},{"id":"r2","role":"bear","t":"2024-05-20","v":36.7},{"id":"r2","role":"bear","t":"2024-06-03","v":36.7},{"id":"r2","role":"bear","t":"2024-06-10","v":34.2},{"id":"r2","role":"bear","t":"2024-06-24","v":34.2},{"id":"r2","role":"bear","t":"2024-07-01","v":33},{"id":"r2","role":"bear","t":"2024-07-15","v":33},{"id":"r2","role":"bear","t":"2024-07-22","v":31.2},{"id":"r2","role":"bear","t":"2024-08-26","v":31.2},{"id":"r2","role":"bear","t":"2024-09-02","v":29.8},{"id":"r2","role":"bear","t":"2024-09-16","v":29.8},{"id":"r2","role":"bear","t":"2024-09-23","v":26.7},{"id":"r2","role":"bear","t":"2024-10-07","v":26.7},{"id":"r2","role":"bear","t":"2024-10-14","v":24.4},{"id":"r2","role":"bear","t":"2024-10-28","v":24.4},{"id":"r2","role":"bear","t":"2024-11-04","v":22.6},{"id":"r2","role":"bear","t":"2024-11-18","v":22.6},{"id":"r2","role":"bear","t":"2024-11-25","v":20.5},{"id":"r2","role":"bear","t":"2024-12-09","v":20.5},{"id":"r2","role":"bear","t":"2024-12-16","v":19.4},{"id":"r2","role":"bear","t":"2024-12-23","v":19.4},{"id":"r2","role":"bear","t":"2024-12-30","v":18.2},{"id":"r2","role":"bear","t":"2025-01-13","v":18.2},{"id":"r2","role":"bear","t":"2025-01-20","v":17.06},{"id":"r2","role":"bear","t":"2025-10-13","v":17.06},
{"id":"g1","role":"bull","t":"2019-09-09","v":4.14},{"id":"g1","role":"bull","t":"2019-09-23","v":4.14},{"id":"g1","role":"bull","t":"2019-09-30","v":8.65},{"id":"g1","role":"bull","t":"2019-10-14","v":8.65},{"id":"g1","role":"bull","t":"2019-10-21","v":9.95},{"id":"g1","role":"bull","t":"2020-03-16","v":9.95},{"id":"g1","role":"bull","t":"2020-03-23","v":35.3},{"id":"g1","role":"bull","t":"2020-04-06","v":35.3},{"id":"g1","role":"bull","t":"2020-04-13","v":36},{"id":"g1","role":"bull","t":"2020-08-10","v":36},
{"id":"g2","role":"bull","t":"2022-06-13","v":6.55},{"id":"g2","role":"bull","t":"2022-06-27","v":6.55},{"id":"g2","role":"bull","t":"2022-07-04","v":16.2},{"id":"g2","role":"bull","t":"2022-11-21","v":16.2},{"id":"g2","role":"bull","t":"2022-11-28","v":21.8},{"id":"g2","role":"bull","t":"2023-01-23","v":21.8},
{"id":"g3","role":"bull","t":"2025-12-15","v":0.63},{"id":"g3","role":"bull","t":"2025-12-22","v":2.23},{"id":"g3","role":"bull","t":"2026-01-26","v":2.23},{"id":"g3","role":"bull","t":"2026-02-02","v":6.15},{"id":"g3","role":"bull","t":"2026-02-16","v":6.15},{"id":"g3","role":"bull","t":"2026-02-23","v":13.7},{"id":"g3","role":"bull","t":"2026-07-27","v":13.7}
],
"floors":[
{"id":"f1","role":"ink","t":"2019-02-16","v":3.55},{"id":"f1","role":"ink","t":"2021-02-15","v":3.55},
{"id":"f2","role":"ink","t":"2021-03-12","v":2.76},{"id":"f2","role":"ink","t":"2024-03-15","v":2.76},
{"id":"f3","role":"ink","t":"2024-03-21","v":1.225},{"id":"f3","role":"ink","t":"2026-11-14","v":1.235}
],
"dots":[
{"role":"bear","t":"2020-08-17","v":233},{"role":"bear","t":"2023-02-06","v":157},{"role":"bull","t":"2022-06-13","v":6.55}
],
"zones":[
{"t":"2019-12-29","t2":"2022-09-24","v":403,"v2":103},
{"t":"2022-09-24","t2":"2026-09-24","v":162,"v2":62}
],
"badges":[
{"role":"bear","t":"2026-11-16","t2":"2027-02-11","v":68.95,"v2":60.4},
{"role":"last","t":"2026-11-16","t2":"2027-02-11","v":60.4,"v2":47.8},
{"role":"paper","t":"2026-11-16","t2":"2027-01-21","v":47.8,"v2":41.9},
{"role":"bear","t":"2026-11-16","t2":"2027-01-21","v":18.1,"v2":15.86},
{"role":"bull","t":"2026-11-16","t2":"2027-01-21","v":14.56,"v2":12.76},
{"role":"paper","t":"2026-11-21","t2":"2027-02-18","v":599,"v2":497}
],
"header":[
{"txt":"Franzz_Bonnmati created with TradingView.com, Jul 31, 2026 14:56 UTC+5:30","role":"ink","t":"2019-01-11","v":683},
{"txt":"USDT.D/FETUSDT · 1W · CRYPTOCAP","role":"ink","t":"2019-01-25","v":554},
{"txt":"O","role":"ink","t":"2019-11-28","v":554},
{"txt":"52.353%","role":"last","t":"2019-12-10","v":554},
{"txt":"H","role":"ink","t":"2020-02-24","v":554},
{"txt":"63.513%","role":"last","t":"2020-03-07","v":554},
{"txt":"L","role":"ink","t":"2020-05-23","v":554},
{"txt":"52.277%","role":"last","t":"2020-06-02","v":554},
{"txt":"C","role":"ink","t":"2020-08-17","v":554},
{"txt":"57.011%","role":"last","t":"2020-08-29","v":554},
{"txt":"+3.479 (+6.50%)","role":"last","t":"2020-11-13","v":554}
],
"labels":[
{"txt":"%","role":"ink","t":"2026-12-08","v":545},
{"txt":"59.975%","role":"paper","t":"2026-11-28","v":64.3},
{"txt":"57.011%","role":"paper","t":"2026-11-28","v":56.5},
{"txt":"2d 15h","role":"timer","t":"2026-11-28","v":50.5},
{"txt":"56.29","role":"ink","t":"2026-11-28","v":44.3},
{"txt":"17.06","role":"paper","t":"2026-11-28","v":16.9},
{"txt":"13.70","role":"paper","t":"2026-11-28","v":13.57}
]
},
"layer":[
{"data":{"name":"zones"},
 "mark":{"type":"rect","fill":"#f2f2f2","stroke":"#f7b2ba","strokeWidth":1},
 "encoding":{
  "x":{"field":"t","type":"temporal","title":null,
   "scale":{"type":"utc","domain":["2019-01-11","2027-02-26"],"padding":0},
   "axis":{"orient":"bottom","offset":-14,"domain":false,"ticks":false,"tickSize":0,"grid":false,"labelPadding":0,"labelBaseline":"middle","labelFont":"Roboto","labelFontSize":11.5,"labelColor":"#131722","labelOverlap":false,"labelFlush":false,
    "values":["2019-07-01","2020-01-06","2020-07-06","2021-01-04","2021-07-05","2022-01-03","2022-07-04","2023-01-02","2023-07-03","2024-01-01","2024-07-01","2025-01-06","2025-07-07","2026-01-05","2026-07-06"],
    "labelExpr":"utcmonth(datum.value)===0?utcFormat(datum.value,'%Y'):'Jul'",
    "labelFontWeight":{"condition":{"test":"utcmonth(datum.value)===0","value":"bold"},"value":"normal"}}},
  "x2":{"field":"t2"},
  "y":{"field":"v","type":"quantitative","title":null,
   "scale":{"type":"log","domain":[0.502,622],"nice":false,"zero":false},
   "axis":{"orient":"right","offset":-59,"domain":false,"ticks":false,"tickSize":0,"grid":false,"labelPadding":0,"labelAlign":"left","labelBaseline":"middle","labelFont":"Roboto","labelFontSize":11.5,"labelColor":"#131722","labelOverlap":false,"labelFlush":false,
    "values":[475,375,295,225,175,135,105,81,46,36,28,22,17,13,10,7.5,5.5,4.3,3.3,2.6,2,1.55,1.2,0.94,0.74],
    "labelExpr":"format(datum.value,'.3f')+'%'"}},
  "y2":{"field":"v2"}}},
{"data":{"values":[{"t":"2019-01-11","t2":"2026-11-11","v":57.011}]},
 "mark":{"type":"rule","stroke":"#089981","strokeWidth":1,"strokeDash":[1,3]},
 "encoding":{"x":{"field":"t","type":"temporal"},"x2":{"field":"t2"},"y":{"field":"v","type":"quantitative"}}},
{"data":{"name":"floors"},
 "mark":{"type":"line","strokeWidth":2.2,"stroke":"#000000"},
 "encoding":{"x":{"field":"t","type":"temporal"},"y":{"field":"v","type":"quantitative"},"detail":{"field":"id"}}},
{"data":{"name":"candles"},
 "mark":{"type":"rule","strokeWidth":1},
 "encoding":{"x":{"field":"t","type":"temporal"},"y":{"field":"l","type":"quantitative"},"y2":{"field":"h"},
  "color":{"condition":{"test":"datum.c>=datum.o","value":"#089981"},"value":"#f23645"}}},
{"data":{"name":"candles"},
 "mark":{"type":"bar","width":3.4,"orient":"vertical"},
 "encoding":{"x":{"field":"t","type":"temporal"},"y":{"field":"o","type":"quantitative"},"y2":{"field":"c"},
  "color":{"condition":{"test":"datum.c>=datum.o","value":"#089981"},"value":"#f23645"}}},
{"data":{"name":"trend"},
 "mark":{"type":"line","strokeWidth":2.3,"strokeJoin":"round"},
 "encoding":{"x":{"field":"t","type":"temporal"},"y":{"field":"v","type":"quantitative"},"detail":{"field":"id"},
  "color":{"field":"role","type":"nominal","legend":null,
   "scale":{"domain":["bear","bull","last","paper","ink","timer"],"range":["#f23645","#4caf50","#089981","#ffffff","#131722","#a6e3d6"]}}}},
{"data":{"name":"dots"},
 "mark":{"type":"point","filled":true,"size":70,"opacity":1},
 "encoding":{"x":{"field":"t","type":"temporal"},"y":{"field":"v","type":"quantitative"},
  "color":{"field":"role","type":"nominal","legend":null}}},
{"data":{"name":"badges"},
 "mark":{"type":"rect","cornerRadius":2},
 "encoding":{"x":{"field":"t","type":"temporal"},"x2":{"field":"t2"},"y":{"field":"v","type":"quantitative"},"y2":{"field":"v2"},
  "color":{"field":"role","type":"nominal","legend":null}}},
{"data":{"name":"header"},
 "mark":{"type":"text","align":"left","baseline":"middle","fontSize":12.2,"font":"Roboto"},
 "encoding":{"x":{"field":"t","type":"temporal"},"y":{"field":"v","type":"quantitative"},"text":{"field":"txt"},
  "color":{"field":"role","type":"nominal","legend":null}}},
{"data":{"name":"labels"},
 "mark":{"type":"text","align":"left","baseline":"middle","fontSize":11.5,"fontWeight":500,"font":"Roboto"},
 "encoding":{"x":{"field":"t","type":"temporal"},"y":{"field":"v","type":"quantitative"},"text":{"field":"txt"},
  "color":{"field":"role","type":"nominal","legend":null}}},
{"data":{"values":[{"t":"2026-07-24","v":0.69}]},
 "mark":{"type":"point","shape":"circle","size":340,"filled":false,"stroke":"#9c27b0","strokeWidth":1.5,"opacity":1},
 "encoding":{"x":{"field":"t","type":"temporal"},"y":{"field":"v","type":"quantitative"}}},
{"data":{"values":[{"t":"2026-07-24","v":0.69}]},
 "mark":{"type":"point","shape":"M0.15,-1 L-0.7,0.2 L-0.1,0.2 L-0.2,1 L0.7,-0.25 L0.1,-0.25 Z","size":110,"filled":true,"fill":"#9c27b0","opacity":1},
 "encoding":{"x":{"field":"t","type":"temporal"},"y":{"field":"v","type":"quantitative"}}},
{"data":{"values":[{"t":"2026-08-02","v":0.724}]},
 "mark":{"type":"point","shape":"circle","size":28,"filled":true,"fill":"#f23645","opacity":1},
 "encoding":{"x":{"field":"t","type":"temporal"},"y":{"field":"v","type":"quantitative"}}},
{"data":{"values":[{"t":"2019-02-07","v":0.399}]},
 "mark":{"type":"point","shape":"M-1,-0.45 L-0.31,-0.45 L-0.31,0.45 L-0.66,0.45 L-0.66,-0.1 L-1,-0.1 Z M-0.24,-0.28 A0.16,0.16 0 1 1 0.08,-0.28 A0.16,0.16 0 1 1 -0.24,-0.28 Z M0.3,-0.45 L1,-0.45 L0.55,0.45 L-0.12,0.45 Z","size":841,"filled":true,"fill":"#131722","opacity":1},
 "encoding":{"x":{"field":"t","type":"temporal"},"y":{"field":"v","type":"quantitative"}}},
{"data":{"values":[{"txt":"TradingView","t":"2019-03-15","v":0.399}]},
 "mark":{"type":"text","align":"left","baseline":"middle","font":"Inter","fontSize":20,"fontWeight":500,"color":"#131722"},
 "encoding":{"x":{"field":"t","type":"temporal"},"y":{"field":"v","type":"quantitative"},"text":{"field":"txt"}}}
]
}
